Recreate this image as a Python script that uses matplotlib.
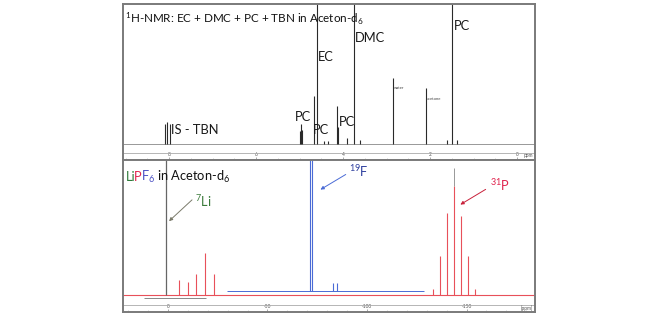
import matplotlib
matplotlib.use("Agg")
import matplotlib.pyplot as plt
from matplotlib.ticker import MultipleLocator
from matplotlib.transforms import offset_copy

plt.rcParams['font.family'] = ['Lato', 'DejaVu Sans']
plt.rcParams['mathtext.fontset'] = 'custom'
plt.rcParams['mathtext.rm'] = 'Lato'

# 1H spectrum: peak positions (ppm) and heights (fraction of panel)
h_ppm = [8.09, 8.05, 7.99, 4.99, 4.97, 4.95, 4.68, 4.59, 4.45, 4.35, 4.14, 4.12,
         3.90, 3.74, 3.61, 2.86, 2.09, 1.62, 1.49, 1.39]
h_int = [0.14, 0.16, 0.14, 0.09, 0.14, 0.10, 0.34, 1.10, 0.02, 0.02, 0.27, 0.12,
         0.04, 1.10, 0.03, 0.47, 0.40, 0.03, 1.10, 0.03]

# 1H peak labels
h_lab = ['EC', 'DMC', 'PC', 'PC', 'PC', 'PC', 'IS - TBN']
h_lab_x = [4.57, 3.72, 1.45, 5.1, 4.7, 4.1, 7.95]
h_lab_y = [0.62, 0.76, 0.84, 0.19, 0.10, 0.16, 0.10]
h_small = ['water', 'acetone']
h_small_x = [2.84, 2.07]
h_small_y = [0.40, 0.32]

h_ticks = [8, 6, 4, 2, 0]

# 7Li / 19F / 31P overlay (ppm, heights)
li_ppm = [1.0]
li_int = [1.10]
li_base = [12, -19]
f_ppm = [-71.4, -72.5, -83.1, -85.1]
f_int = [1.10, 1.10, 0.09, 0.09]
f_base = [-29.6, -128.6]
p_ppm = [-5.5, -10.0, -14.1, -18.6, -23.1,
         -133.3, -136.7, -140.4, -143.7, -147.2, -150.8, -154.1]
p_int = [0.11, 0.10, 0.16, 0.31, 0.16,
         0.045, 0.29, 0.61, 0.81, 0.59, 0.29, 0.045]
p_grey = [-143.7]
p_grey_int = [0.95]

x_ticks = [0, -50, -100, -150]

red = '#e8505a'
blue = '#4a6bd6'
frame = '#7a7a7a'

fig = plt.figure(figsize=(6.6, 3.18), dpi=100)
W, H = 660.0, 318.0
ax1 = fig.add_axes([123 / W, 1 - 160 / H, 412 / W, 156 / H])
ax2 = fig.add_axes([123 / W, 1 - 312 / H, 412 / W, 152 / H])

# ---- top panel: 1H
ax1.set_xlim(9.06, -0.41)
ax1.set_ylim(-16 / 140, 1.0)
ax1.axhline(0, color='#888888', lw=0.6)
ax1.axhline(-9 / 140, color='#aaaaaa', lw=0.6)
ax1.vlines(h_ppm, 0, h_int, color='#2a2a2a', lw=0.8)
for t, x, y in zip(h_lab, h_lab_x, h_lab_y):
    ax1.text(x, y, t, fontsize=9.3, ha='left', va='center', color='#1a1a1a')
for t, x, y in zip(h_small, h_small_x, h_small_y):
    ax1.text(x, y, t, fontsize=3, ha='left', va='center', color='#444444')
ax1.text(0.005, 0.905, r'$\mathregular{^1}$H-NMR: EC + DMC + PC + TBN in Aceton-d$\mathregular{_6}$',
         transform=ax1.transAxes, fontsize=8.4, ha='left', va='center', color='#111111')
ax1.set_xticks(h_ticks)
ax1.set_xticklabels([str(t) for t in h_ticks])
ax1.xaxis.set_minor_locator(MultipleLocator(0.5))
ax1.set_yticks([])
ax1.text(0.995, 0.03, 'ppm', transform=ax1.transAxes, fontsize=3.5, ha='right',
         va='center', color='#555555')

# ---- bottom panel: 7Li, 19F, 31P
ax2.set_xlim(22.6, -184.4)
ax2.set_ylim(-17 / 134, 135 / 134)
ax2.axhline(-10 / 134, color='#aaaaaa', lw=0.6)
ax2.hlines(-3 / 134, li_base[0], li_base[1], color='#888888', lw=0.7)
ax2.hlines(4 / 134, f_base[0], f_base[1], color=blue, lw=0.7)
ax2.axhline(0, color=red, lw=0.8)
ax2.vlines(li_ppm, 0, li_int, color='#666666', lw=0.9)
ax2.vlines(f_ppm, 4 / 134, f_int, color=blue, lw=0.8)
ax2.vlines(p_ppm, 0, p_int, color=red, lw=0.8)
ax2.vlines(p_grey, p_int[8], p_grey_int, color='#888888', lw=0.6)

ax2.annotate('', xy=(0.5, 0.537), xytext=(-13.1, 0.724),
             arrowprops=dict(arrowstyle='-|>', color='#7a7a6a', lw=0.7, mutation_scale=5))
ax2.annotate('', xy=(-75.4, 0.776), xytext=(-90.5, 0.910),
             arrowprops=dict(arrowstyle='-|>', color=blue, lw=0.7, mutation_scale=5))
ax2.annotate('', xy=(-145.7, 0.664), xytext=(-160.8, 0.799),
             arrowprops=dict(arrowstyle='-|>', color='#c8203a', lw=0.7, mutation_scale=5))
ax2.text(-13.6, 0.70, r'$\mathregular{^7}$Li', fontsize=9.3, color='#3a7a3a', va='center')
ax2.text(-91.0, 0.925, r'$\mathregular{^{19}}$F', fontsize=9.3, color='#2e3f9e', va='center')
ax2.text(-161.8, 0.82, r'$\mathregular{^{31}}$P', fontsize=9.3, color='#e0244e', va='center')

# coloured title "LiPF6 in Aceton-d6"
pieces = ['Li', 'P', r'F$\mathregular{_6}$', r'in Aceton-d$\mathregular{_6}$']
colours = ['#2f7a3a', '#e0244e', '#4a4fc4', '#111111']
gaps = [0, -1, -1, 1.5]
fig.canvas.draw()
renderer = fig.canvas.get_renderer()
dx = 0.0
for s, c, g in zip(pieces, colours, gaps):
    dx += g
    tr = offset_copy(ax2.transAxes, fig=fig, x=dx, y=0, units='dots')
    t = ax2.text(0.006, 0.86, s, transform=tr, fontsize=9.3, color=c, va='baseline', ha='left')
    dx += t.get_window_extent(renderer).width

ax2.set_xticks(x_ticks)
ax2.set_xticklabels([str(t) for t in x_ticks])
ax2.xaxis.set_minor_locator(MultipleLocator(10))
ax2.set_yticks([])
ax2.text(0.995, 0.025, '[ppm]', transform=ax2.transAxes, fontsize=3.5, ha='right',
         va='center', color='#555555')

for ax in (ax1, ax2):
    for sp in ax.spines.values():
        sp.set_color(frame)
        sp.set_linewidth(1.4)
    ax.tick_params(axis='x', which='major', direction='in', length=2.5, width=0.5,
                   pad=-5.5, labelsize=3.5, labelcolor='#555555', color='#888888')
    ax.tick_params(axis='x', which='minor', direction='in', length=1.2, width=0.4,
                   color='#aaaaaa')

fig.savefig('out.png', dpi=100, facecolor='white')
